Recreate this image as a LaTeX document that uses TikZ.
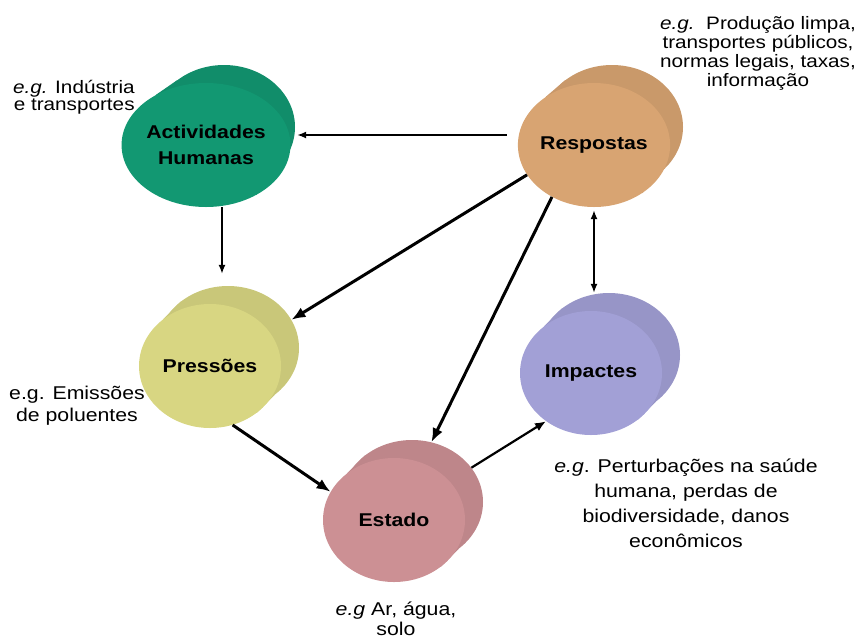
\documentclass[tikz,border=0pt]{standalone}
\usepackage{fontspec}
\setmainfont{Liberation Sans}[FakeStretch=1.15]
\definecolor{actgreen}{RGB}{18,152,114}
\definecolor{resptan}{RGB}{216,164,114}
\definecolor{presyellow}{RGB}{216,214,130}
\definecolor{estpink}{RGB}{204,144,148}
\definecolor{impblue}{RGB}{162,160,214}
\tikzset{every picture/.style={/utils/exec={\fontsize{18.5}{20}\selectfont}}}
\usetikzlibrary{shapes.geometric}
\usetikzlibrary{backgrounds}
\usetikzlibrary{arrows.meta}

\begin{document}
\begin{tikzpicture}[x=1pt, y=-1pt,
  face/.style={ellipse, minimum width=142pt, minimum height=124pt, inner sep=0pt,
    align=center, font=\fontsize{18.5}{26}\selectfont\bfseries},
  note/.style={align=center},
  thinarr/.style={-{Latex[length=9pt,width=7pt]}, line width=1.5pt},
  midarr/.style={-{Latex[length=11pt,width=9pt]}, line width=2.2pt},
  thickarr/.style={-{Latex[length=14pt,width=11pt]}, line width=3pt}]

  \useasboundingbox (0,0) rectangle (862,638);

  % front faces
  \node [face, fill=actgreen] (act) at (206,145) {Actividades\\Humanas};
  \node [face, fill=resptan] (resp) at (594,145) {Respostas};
  \node [face, fill=presyellow] (pres) at (210,366) {Pressões};
  \node [face, fill=estpink] (est) at (394,520) {Estado};
  \node [face, fill=impblue] (imp) at (591,373) {Impactes};

  % back faces and sides:
  \begin{scope}[on background layer]
    \foreach \n/\c in {act/actgreen,resp/resptan,pres/presyellow,est/estpink,imp/impblue} {
      \node [face, fill=\c!93!black] (\n-b) at ([shift={(18,-18)}]\n) {};
      \fill [\c!93!black] (\n.135) -- (\n-b.135) -- (\n-b.-45) -- (\n.-45) -- cycle;
    }
  \end{scope}

  % examples
  \node [note, anchor=east, align=right, font=\fontsize{18}{17.5}\selectfont] (actnote) at (141,97) {\textit{e.g.} Indústria\\e transportes};
  \node [note, font=\fontsize{18}{19}\selectfont] (respnote) at (758,53) {\textit{e.g.}\ \ Produção limpa,\\transportes públicos,\\normas legais, taxas,\\informação};
  \node [note, font=\fontsize{18.5}{22}\selectfont] (presnote) at (77,406) {e.g. Emissões\\de poluentes};
  \node [note] (estnote) at (396,619) {\textit{e.g} Ar, água,\\solo};
  \node [note, font=\fontsize{18.5}{25}\selectfont] (impnote) at (686,503) {\textit{e.g}. Perturbações na saúde\\humana, perdas de\\biodiversidade, danos\\econômicos};

  % connectors
  \draw [thinarr] ([shift={(-11,-10)}]resp.west) -- ([shift={(2,8)}]act-b.east);
  \draw [thinarr, shorten >=12pt] ([xshift=16pt]act.south) -- ([xshift=16pt]act.south |- pres-b.north);
  \draw [thickarr] (resp.204) -- (pres-b.24);
  \draw [thickarr] (resp.231) -- (est-b.72);
  \draw [thickarr] (pres.291) -- (est.156);
  \draw [midarr] (est-b.30) -- (imp.227);
  \draw [thinarr, {Latex[length=9pt,width=7pt]}-{Latex[length=9pt,width=7pt]}, shorten <=3pt] (resp.south) -- (resp.south |- imp-b.north);

\end{tikzpicture}
\end{document}
